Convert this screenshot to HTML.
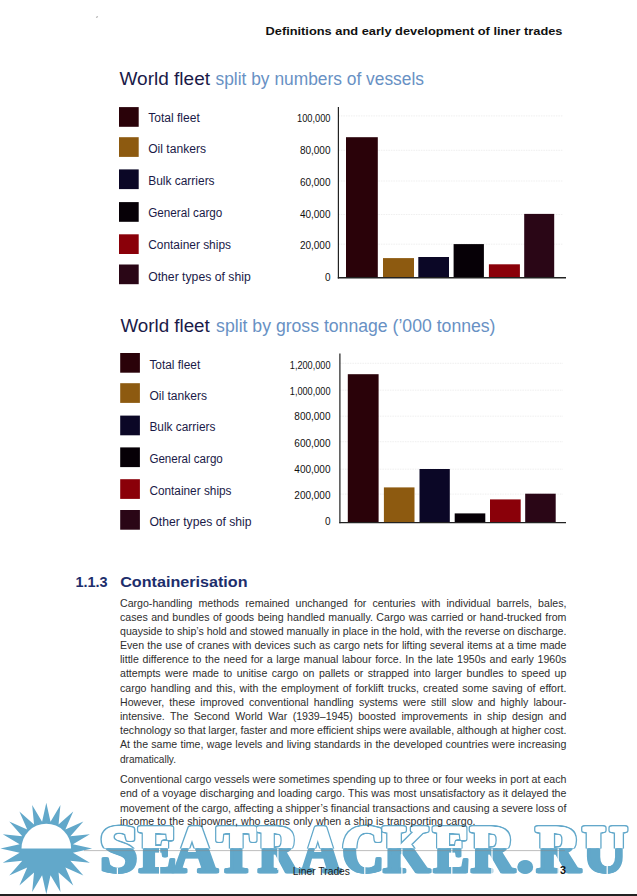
<!DOCTYPE html>
<html><head><meta charset="utf-8"><style>
html,body{margin:0;padding:0;background:#fff;overflow:hidden;}
svg{display:block;}
svg{font-family:"Liberation Sans", "DejaVu Sans", sans-serif;}
</style></head><body>
<svg width="637" height="896" viewBox="0 0 637 896">
<defs>
<clipPath id="top"><rect x="0" y="0" width="637" height="848.5"/></clipPath>
<clipPath id="bot"><rect x="0" y="848.5" width="637" height="47.5"/></clipPath>
</defs>
<rect width="637" height="896" fill="#fff"/>
<ellipse cx="97" cy="17" rx="1.3" ry="0.8" fill="#bbb" transform="rotate(-40 97 17)"/>
<polygon points="46.30,802.70 50.52,821.83 60.45,804.94 58.56,824.44 73.22,811.45 65.39,829.41 83.35,821.58 70.36,836.24 89.86,834.35 72.97,844.28 92.10,848.50 72.97,852.72 89.86,862.65 70.36,860.76 83.35,875.42 65.39,867.59 73.22,885.55 58.56,872.56 60.45,892.06 50.52,875.17 46.30,894.30 42.08,875.17 32.15,892.06 34.04,872.56 19.38,885.55 27.21,867.59 9.25,875.42 22.24,860.76 2.74,862.65 19.63,852.72 0.50,848.50 19.63,844.28 2.74,834.35 22.24,836.24 9.25,821.58 27.21,829.41 19.38,811.45 34.04,824.44 32.15,804.94 42.08,821.83" fill="#62a8ca"/>
<path d="M21.499999999999996,848.5 A24.8,24.8 0 0 1 71.1,848.5 Z" fill="#fff"/>
<g style='font-family:"Liberation Serif", "DejaVu Serif", serif;font-weight:bold;font-size:68.2442748091603px' stroke-linejoin='round'>
<g clip-path="url(#top)">
<text transform="translate(101.30,0) scale(0.9807,1)" x="-2.16" y="872.35" fill="#62a8ca" stroke="#62a8ca" stroke-width="5.5">S</text>
<text transform="translate(101.30,0) scale(0.9807,1)" x="-1.16" y="872.35" fill="#62a8ca" stroke="#62a8ca" stroke-width="5.5">S</text>
<text transform="translate(101.30,0) scale(0.9807,1)" x="-0.16" y="872.35" fill="#62a8ca" stroke="#62a8ca" stroke-width="5.5">S</text>
<text transform="translate(138.30,0) scale(0.8229,1)" x="-0.11" y="872.35" fill="#62a8ca" stroke="#62a8ca" stroke-width="5.5">E</text>
<text transform="translate(138.30,0) scale(0.8229,1)" x="0.89" y="872.35" fill="#62a8ca" stroke="#62a8ca" stroke-width="5.5">E</text>
<text transform="translate(138.30,0) scale(0.8229,1)" x="1.89" y="872.35" fill="#62a8ca" stroke="#62a8ca" stroke-width="5.5">E</text>
<text transform="translate(171.00,0) scale(0.9183,1)" x="0.57" y="872.35" fill="#62a8ca" stroke="#62a8ca" stroke-width="5.5">A</text>
<text transform="translate(171.00,0) scale(0.9183,1)" x="1.57" y="872.35" fill="#62a8ca" stroke="#62a8ca" stroke-width="5.5">A</text>
<text transform="translate(171.00,0) scale(0.9183,1)" x="2.57" y="872.35" fill="#62a8ca" stroke="#62a8ca" stroke-width="5.5">A</text>
<text transform="translate(216.50,0) scale(0.8380,1)" x="-0.11" y="872.35" fill="#62a8ca" stroke="#62a8ca" stroke-width="5.5">T</text>
<text transform="translate(216.50,0) scale(0.8380,1)" x="0.89" y="872.35" fill="#62a8ca" stroke="#62a8ca" stroke-width="5.5">T</text>
<text transform="translate(216.50,0) scale(0.8380,1)" x="1.89" y="872.35" fill="#62a8ca" stroke="#62a8ca" stroke-width="5.5">T</text>
<text transform="translate(257.00,0) scale(0.8120,1)" x="-0.11" y="872.35" fill="#62a8ca" stroke="#62a8ca" stroke-width="5.5">R</text>
<text transform="translate(257.00,0) scale(0.8120,1)" x="0.89" y="872.35" fill="#62a8ca" stroke="#62a8ca" stroke-width="5.5">R</text>
<text transform="translate(257.00,0) scale(0.8120,1)" x="1.89" y="872.35" fill="#62a8ca" stroke="#62a8ca" stroke-width="5.5">R</text>
<text transform="translate(299.00,0) scale(0.8226,1)" x="0.57" y="872.35" fill="#62a8ca" stroke="#62a8ca" stroke-width="5.5">A</text>
<text transform="translate(299.00,0) scale(0.8226,1)" x="1.57" y="872.35" fill="#62a8ca" stroke="#62a8ca" stroke-width="5.5">A</text>
<text transform="translate(299.00,0) scale(0.8226,1)" x="2.57" y="872.35" fill="#62a8ca" stroke="#62a8ca" stroke-width="5.5">A</text>
<text transform="translate(343.00,0) scale(0.8582,1)" x="-2.16" y="872.35" fill="#62a8ca" stroke="#62a8ca" stroke-width="5.5">C</text>
<text transform="translate(343.00,0) scale(0.8582,1)" x="-1.16" y="872.35" fill="#62a8ca" stroke="#62a8ca" stroke-width="5.5">C</text>
<text transform="translate(343.00,0) scale(0.8582,1)" x="-0.16" y="872.35" fill="#62a8ca" stroke="#62a8ca" stroke-width="5.5">C</text>
<text transform="translate(382.50,0) scale(0.8800,1)" x="-0.11" y="872.35" fill="#62a8ca" stroke="#62a8ca" stroke-width="5.5">K</text>
<text transform="translate(382.50,0) scale(0.8800,1)" x="0.89" y="872.35" fill="#62a8ca" stroke="#62a8ca" stroke-width="5.5">K</text>
<text transform="translate(382.50,0) scale(0.8800,1)" x="1.89" y="872.35" fill="#62a8ca" stroke="#62a8ca" stroke-width="5.5">K</text>
<text transform="translate(432.80,0) scale(0.7921,1)" x="-0.11" y="872.35" fill="#62a8ca" stroke="#62a8ca" stroke-width="5.5">E</text>
<text transform="translate(432.80,0) scale(0.7921,1)" x="0.89" y="872.35" fill="#62a8ca" stroke="#62a8ca" stroke-width="5.5">E</text>
<text transform="translate(432.80,0) scale(0.7921,1)" x="1.89" y="872.35" fill="#62a8ca" stroke="#62a8ca" stroke-width="5.5">E</text>
<text transform="translate(470.00,0) scale(0.8800,1)" x="-0.11" y="872.35" fill="#62a8ca" stroke="#62a8ca" stroke-width="5.5">R</text>
<text transform="translate(470.00,0) scale(0.8800,1)" x="0.89" y="872.35" fill="#62a8ca" stroke="#62a8ca" stroke-width="5.5">R</text>
<text transform="translate(470.00,0) scale(0.8800,1)" x="1.89" y="872.35" fill="#62a8ca" stroke="#62a8ca" stroke-width="5.5">R</text>
<text transform="translate(517.00,0) scale(1.0247,1)" x="-1.48" y="872.35" fill="#62a8ca" stroke="#62a8ca" stroke-width="5.5">.</text>
<text transform="translate(517.00,0) scale(1.0247,1)" x="-0.48" y="872.35" fill="#62a8ca" stroke="#62a8ca" stroke-width="5.5">.</text>
<text transform="translate(517.00,0) scale(1.0247,1)" x="0.52" y="872.35" fill="#62a8ca" stroke="#62a8ca" stroke-width="5.5">.</text>
<text transform="translate(535.70,0) scale(0.8895,1)" x="-0.11" y="872.35" fill="#62a8ca" stroke="#62a8ca" stroke-width="5.5">R</text>
<text transform="translate(535.70,0) scale(0.8895,1)" x="0.89" y="872.35" fill="#62a8ca" stroke="#62a8ca" stroke-width="5.5">R</text>
<text transform="translate(535.70,0) scale(0.8895,1)" x="1.89" y="872.35" fill="#62a8ca" stroke="#62a8ca" stroke-width="5.5">R</text>
<text transform="translate(582.10,0) scale(0.8899,1)" x="-0.11" y="872.35" fill="#62a8ca" stroke="#62a8ca" stroke-width="5.5">U</text>
<text transform="translate(582.10,0) scale(0.8899,1)" x="0.89" y="872.35" fill="#62a8ca" stroke="#62a8ca" stroke-width="5.5">U</text>
<text transform="translate(582.10,0) scale(0.8899,1)" x="1.89" y="872.35" fill="#62a8ca" stroke="#62a8ca" stroke-width="5.5">U</text>
<text transform="translate(101.30,0) scale(0.9807,1)" x="-2.16" y="872.35" fill="#fff" stroke="#fff" stroke-width="2.5">S</text>
<text transform="translate(101.30,0) scale(0.9807,1)" x="-1.16" y="872.35" fill="#fff" stroke="#fff" stroke-width="2.5">S</text>
<text transform="translate(101.30,0) scale(0.9807,1)" x="-0.16" y="872.35" fill="#fff" stroke="#fff" stroke-width="2.5">S</text>
<text transform="translate(138.30,0) scale(0.8229,1)" x="-0.11" y="872.35" fill="#fff" stroke="#fff" stroke-width="2.5">E</text>
<text transform="translate(138.30,0) scale(0.8229,1)" x="0.89" y="872.35" fill="#fff" stroke="#fff" stroke-width="2.5">E</text>
<text transform="translate(138.30,0) scale(0.8229,1)" x="1.89" y="872.35" fill="#fff" stroke="#fff" stroke-width="2.5">E</text>
<text transform="translate(171.00,0) scale(0.9183,1)" x="0.57" y="872.35" fill="#fff" stroke="#fff" stroke-width="2.5">A</text>
<text transform="translate(171.00,0) scale(0.9183,1)" x="1.57" y="872.35" fill="#fff" stroke="#fff" stroke-width="2.5">A</text>
<text transform="translate(171.00,0) scale(0.9183,1)" x="2.57" y="872.35" fill="#fff" stroke="#fff" stroke-width="2.5">A</text>
<text transform="translate(216.50,0) scale(0.8380,1)" x="-0.11" y="872.35" fill="#fff" stroke="#fff" stroke-width="2.5">T</text>
<text transform="translate(216.50,0) scale(0.8380,1)" x="0.89" y="872.35" fill="#fff" stroke="#fff" stroke-width="2.5">T</text>
<text transform="translate(216.50,0) scale(0.8380,1)" x="1.89" y="872.35" fill="#fff" stroke="#fff" stroke-width="2.5">T</text>
<text transform="translate(257.00,0) scale(0.8120,1)" x="-0.11" y="872.35" fill="#fff" stroke="#fff" stroke-width="2.5">R</text>
<text transform="translate(257.00,0) scale(0.8120,1)" x="0.89" y="872.35" fill="#fff" stroke="#fff" stroke-width="2.5">R</text>
<text transform="translate(257.00,0) scale(0.8120,1)" x="1.89" y="872.35" fill="#fff" stroke="#fff" stroke-width="2.5">R</text>
<text transform="translate(299.00,0) scale(0.8226,1)" x="0.57" y="872.35" fill="#fff" stroke="#fff" stroke-width="2.5">A</text>
<text transform="translate(299.00,0) scale(0.8226,1)" x="1.57" y="872.35" fill="#fff" stroke="#fff" stroke-width="2.5">A</text>
<text transform="translate(299.00,0) scale(0.8226,1)" x="2.57" y="872.35" fill="#fff" stroke="#fff" stroke-width="2.5">A</text>
<text transform="translate(343.00,0) scale(0.8582,1)" x="-2.16" y="872.35" fill="#fff" stroke="#fff" stroke-width="2.5">C</text>
<text transform="translate(343.00,0) scale(0.8582,1)" x="-1.16" y="872.35" fill="#fff" stroke="#fff" stroke-width="2.5">C</text>
<text transform="translate(343.00,0) scale(0.8582,1)" x="-0.16" y="872.35" fill="#fff" stroke="#fff" stroke-width="2.5">C</text>
<text transform="translate(382.50,0) scale(0.8800,1)" x="-0.11" y="872.35" fill="#fff" stroke="#fff" stroke-width="2.5">K</text>
<text transform="translate(382.50,0) scale(0.8800,1)" x="0.89" y="872.35" fill="#fff" stroke="#fff" stroke-width="2.5">K</text>
<text transform="translate(382.50,0) scale(0.8800,1)" x="1.89" y="872.35" fill="#fff" stroke="#fff" stroke-width="2.5">K</text>
<text transform="translate(432.80,0) scale(0.7921,1)" x="-0.11" y="872.35" fill="#fff" stroke="#fff" stroke-width="2.5">E</text>
<text transform="translate(432.80,0) scale(0.7921,1)" x="0.89" y="872.35" fill="#fff" stroke="#fff" stroke-width="2.5">E</text>
<text transform="translate(432.80,0) scale(0.7921,1)" x="1.89" y="872.35" fill="#fff" stroke="#fff" stroke-width="2.5">E</text>
<text transform="translate(470.00,0) scale(0.8800,1)" x="-0.11" y="872.35" fill="#fff" stroke="#fff" stroke-width="2.5">R</text>
<text transform="translate(470.00,0) scale(0.8800,1)" x="0.89" y="872.35" fill="#fff" stroke="#fff" stroke-width="2.5">R</text>
<text transform="translate(470.00,0) scale(0.8800,1)" x="1.89" y="872.35" fill="#fff" stroke="#fff" stroke-width="2.5">R</text>
<text transform="translate(517.00,0) scale(1.0247,1)" x="-1.48" y="872.35" fill="#fff" stroke="#fff" stroke-width="2.5">.</text>
<text transform="translate(517.00,0) scale(1.0247,1)" x="-0.48" y="872.35" fill="#fff" stroke="#fff" stroke-width="2.5">.</text>
<text transform="translate(517.00,0) scale(1.0247,1)" x="0.52" y="872.35" fill="#fff" stroke="#fff" stroke-width="2.5">.</text>
<text transform="translate(535.70,0) scale(0.8895,1)" x="-0.11" y="872.35" fill="#fff" stroke="#fff" stroke-width="2.5">R</text>
<text transform="translate(535.70,0) scale(0.8895,1)" x="0.89" y="872.35" fill="#fff" stroke="#fff" stroke-width="2.5">R</text>
<text transform="translate(535.70,0) scale(0.8895,1)" x="1.89" y="872.35" fill="#fff" stroke="#fff" stroke-width="2.5">R</text>
<text transform="translate(582.10,0) scale(0.8899,1)" x="-0.11" y="872.35" fill="#fff" stroke="#fff" stroke-width="2.5">U</text>
<text transform="translate(582.10,0) scale(0.8899,1)" x="0.89" y="872.35" fill="#fff" stroke="#fff" stroke-width="2.5">U</text>
<text transform="translate(582.10,0) scale(0.8899,1)" x="1.89" y="872.35" fill="#fff" stroke="#fff" stroke-width="2.5">U</text>
</g><g clip-path="url(#bot)">
<text transform="translate(101.30,0) scale(0.9807,1)" x="-2.16" y="872.35" fill="#62a8ca" stroke="#62a8ca" stroke-width="2.5">S</text>
<text transform="translate(101.30,0) scale(0.9807,1)" x="-1.16" y="872.35" fill="#62a8ca" stroke="#62a8ca" stroke-width="2.5">S</text>
<text transform="translate(101.30,0) scale(0.9807,1)" x="-0.16" y="872.35" fill="#62a8ca" stroke="#62a8ca" stroke-width="2.5">S</text>
<text transform="translate(138.30,0) scale(0.8229,1)" x="-0.11" y="872.35" fill="#62a8ca" stroke="#62a8ca" stroke-width="2.5">E</text>
<text transform="translate(138.30,0) scale(0.8229,1)" x="0.89" y="872.35" fill="#62a8ca" stroke="#62a8ca" stroke-width="2.5">E</text>
<text transform="translate(138.30,0) scale(0.8229,1)" x="1.89" y="872.35" fill="#62a8ca" stroke="#62a8ca" stroke-width="2.5">E</text>
<text transform="translate(171.00,0) scale(0.9183,1)" x="0.57" y="872.35" fill="#62a8ca" stroke="#62a8ca" stroke-width="2.5">A</text>
<text transform="translate(171.00,0) scale(0.9183,1)" x="1.57" y="872.35" fill="#62a8ca" stroke="#62a8ca" stroke-width="2.5">A</text>
<text transform="translate(171.00,0) scale(0.9183,1)" x="2.57" y="872.35" fill="#62a8ca" stroke="#62a8ca" stroke-width="2.5">A</text>
<text transform="translate(216.50,0) scale(0.8380,1)" x="-0.11" y="872.35" fill="#62a8ca" stroke="#62a8ca" stroke-width="2.5">T</text>
<text transform="translate(216.50,0) scale(0.8380,1)" x="0.89" y="872.35" fill="#62a8ca" stroke="#62a8ca" stroke-width="2.5">T</text>
<text transform="translate(216.50,0) scale(0.8380,1)" x="1.89" y="872.35" fill="#62a8ca" stroke="#62a8ca" stroke-width="2.5">T</text>
<text transform="translate(257.00,0) scale(0.8120,1)" x="-0.11" y="872.35" fill="#62a8ca" stroke="#62a8ca" stroke-width="2.5">R</text>
<text transform="translate(257.00,0) scale(0.8120,1)" x="0.89" y="872.35" fill="#62a8ca" stroke="#62a8ca" stroke-width="2.5">R</text>
<text transform="translate(257.00,0) scale(0.8120,1)" x="1.89" y="872.35" fill="#62a8ca" stroke="#62a8ca" stroke-width="2.5">R</text>
<text transform="translate(299.00,0) scale(0.8226,1)" x="0.57" y="872.35" fill="#62a8ca" stroke="#62a8ca" stroke-width="2.5">A</text>
<text transform="translate(299.00,0) scale(0.8226,1)" x="1.57" y="872.35" fill="#62a8ca" stroke="#62a8ca" stroke-width="2.5">A</text>
<text transform="translate(299.00,0) scale(0.8226,1)" x="2.57" y="872.35" fill="#62a8ca" stroke="#62a8ca" stroke-width="2.5">A</text>
<text transform="translate(343.00,0) scale(0.8582,1)" x="-2.16" y="872.35" fill="#62a8ca" stroke="#62a8ca" stroke-width="2.5">C</text>
<text transform="translate(343.00,0) scale(0.8582,1)" x="-1.16" y="872.35" fill="#62a8ca" stroke="#62a8ca" stroke-width="2.5">C</text>
<text transform="translate(343.00,0) scale(0.8582,1)" x="-0.16" y="872.35" fill="#62a8ca" stroke="#62a8ca" stroke-width="2.5">C</text>
<text transform="translate(382.50,0) scale(0.8800,1)" x="-0.11" y="872.35" fill="#62a8ca" stroke="#62a8ca" stroke-width="2.5">K</text>
<text transform="translate(382.50,0) scale(0.8800,1)" x="0.89" y="872.35" fill="#62a8ca" stroke="#62a8ca" stroke-width="2.5">K</text>
<text transform="translate(382.50,0) scale(0.8800,1)" x="1.89" y="872.35" fill="#62a8ca" stroke="#62a8ca" stroke-width="2.5">K</text>
<text transform="translate(432.80,0) scale(0.7921,1)" x="-0.11" y="872.35" fill="#62a8ca" stroke="#62a8ca" stroke-width="2.5">E</text>
<text transform="translate(432.80,0) scale(0.7921,1)" x="0.89" y="872.35" fill="#62a8ca" stroke="#62a8ca" stroke-width="2.5">E</text>
<text transform="translate(432.80,0) scale(0.7921,1)" x="1.89" y="872.35" fill="#62a8ca" stroke="#62a8ca" stroke-width="2.5">E</text>
<text transform="translate(470.00,0) scale(0.8800,1)" x="-0.11" y="872.35" fill="#62a8ca" stroke="#62a8ca" stroke-width="2.5">R</text>
<text transform="translate(470.00,0) scale(0.8800,1)" x="0.89" y="872.35" fill="#62a8ca" stroke="#62a8ca" stroke-width="2.5">R</text>
<text transform="translate(470.00,0) scale(0.8800,1)" x="1.89" y="872.35" fill="#62a8ca" stroke="#62a8ca" stroke-width="2.5">R</text>
<text transform="translate(517.00,0) scale(1.0247,1)" x="-1.48" y="872.35" fill="#62a8ca" stroke="#62a8ca" stroke-width="2.5">.</text>
<text transform="translate(517.00,0) scale(1.0247,1)" x="-0.48" y="872.35" fill="#62a8ca" stroke="#62a8ca" stroke-width="2.5">.</text>
<text transform="translate(517.00,0) scale(1.0247,1)" x="0.52" y="872.35" fill="#62a8ca" stroke="#62a8ca" stroke-width="2.5">.</text>
<text transform="translate(535.70,0) scale(0.8895,1)" x="-0.11" y="872.35" fill="#62a8ca" stroke="#62a8ca" stroke-width="2.5">R</text>
<text transform="translate(535.70,0) scale(0.8895,1)" x="0.89" y="872.35" fill="#62a8ca" stroke="#62a8ca" stroke-width="2.5">R</text>
<text transform="translate(535.70,0) scale(0.8895,1)" x="1.89" y="872.35" fill="#62a8ca" stroke="#62a8ca" stroke-width="2.5">R</text>
<text transform="translate(582.10,0) scale(0.8899,1)" x="-0.11" y="872.35" fill="#62a8ca" stroke="#62a8ca" stroke-width="2.5">U</text>
<text transform="translate(582.10,0) scale(0.8899,1)" x="0.89" y="872.35" fill="#62a8ca" stroke="#62a8ca" stroke-width="2.5">U</text>
<text transform="translate(582.10,0) scale(0.8899,1)" x="1.89" y="872.35" fill="#62a8ca" stroke="#62a8ca" stroke-width="2.5">U</text>
</g></g>
<rect x="116.80000000000001" y="868" width="1.2" height="7" fill="#fff"/>
<rect x="159.0" y="848.5" width="1.2" height="26.5" fill="#fff"/>
<rect x="277.29999999999995" y="848.5" width="1.2" height="21.5" fill="#fff"/>
<rect x="364.2" y="864" width="1.2" height="11" fill="#fff"/>
<rect x="401.29999999999995" y="848.5" width="1.2" height="26.5" fill="#fff"/>
<rect x="451.2" y="848.5" width="1.2" height="26.5" fill="#fff"/>
<rect x="491.4" y="848.5" width="1.2" height="26.5" fill="#fff"/>
<rect x="557.6" y="848.5" width="1.2" height="26.5" fill="#fff"/>
<rect x="606.6" y="865" width="1.2" height="10" fill="#fff"/>
<line x1="84" y1="850.6" x2="565" y2="850.6" stroke="#888" stroke-width="0.9" opacity="0.6"/>
<text x="265.5" y="35" font-size="11.5" fill="#111" font-weight="bold" textLength="297" lengthAdjust="spacingAndGlyphs">Definitions and early development of liner trades</text>
<text x="119.5" y="85" font-size="17.5" fill="#1a1a48" textLength="90.5" lengthAdjust="spacingAndGlyphs">World fleet</text>
<text x="215.5" y="85" font-size="17.5" fill="#6891c4" textLength="208.5" lengthAdjust="spacingAndGlyphs">split by numbers of vessels</text>
<text x="120.4" y="332" font-size="17.5" fill="#1a1a48" textLength="89.4" lengthAdjust="spacingAndGlyphs">World fleet</text>
<text x="216.1" y="332" font-size="17.5" fill="#6891c4" textLength="279.4" lengthAdjust="spacingAndGlyphs">split by gross tonnage (&#8217;000 tonnes)</text>
<rect x="119" y="107.1" width="19.7" height="19.7" fill="#2a0209"/>
<text x="148.2" y="122.1" font-size="12.5" fill="#1a1a48" textLength="51.6" lengthAdjust="spacingAndGlyphs">Total fleet</text>
<rect x="119" y="137.2" width="19.7" height="19.7" fill="#8d5a10"/>
<text x="148.2" y="153.4" font-size="12.5" fill="#1a1a48" textLength="57.9" lengthAdjust="spacingAndGlyphs">Oil tankers</text>
<rect x="119" y="169.4" width="19.7" height="19.7" fill="#0b0726"/>
<text x="148.2" y="185.4" font-size="12.5" fill="#1a1a48" textLength="66.4" lengthAdjust="spacingAndGlyphs">Bulk carriers</text>
<rect x="119" y="202.1" width="19.7" height="19.7" fill="#060006"/>
<text x="148.2" y="216.8" font-size="12.5" fill="#1a1a48" textLength="74.2" lengthAdjust="spacingAndGlyphs">General cargo</text>
<rect x="119" y="234.3" width="19.7" height="19.7" fill="#8a0009"/>
<text x="148.2" y="248.8" font-size="12.5" fill="#1a1a48" textLength="82.8" lengthAdjust="spacingAndGlyphs">Container ships</text>
<rect x="119" y="264.5" width="19.7" height="19.7" fill="#2a0616"/>
<text x="148.2" y="280.5" font-size="12.5" fill="#1a1a48" textLength="102.5" lengthAdjust="spacingAndGlyphs">Other types of ship</text>
<rect x="120.2" y="353" width="19.7" height="19.7" fill="#2a0209"/>
<text x="149.4" y="368.5" font-size="12.5" fill="#1a1a48" textLength="50.9" lengthAdjust="spacingAndGlyphs">Total fleet</text>
<rect x="120.2" y="383.2" width="19.7" height="19.7" fill="#8d5a10"/>
<text x="149.4" y="399.8" font-size="12.5" fill="#1a1a48" textLength="57.6" lengthAdjust="spacingAndGlyphs">Oil tankers</text>
<rect x="120.2" y="415.6" width="19.7" height="19.7" fill="#0b0726"/>
<text x="149.4" y="431.4" font-size="12.5" fill="#1a1a48" textLength="66.0" lengthAdjust="spacingAndGlyphs">Bulk carriers</text>
<rect x="120.2" y="447.4" width="19.7" height="19.7" fill="#060006"/>
<text x="149.4" y="463" font-size="12.5" fill="#1a1a48" textLength="73.4" lengthAdjust="spacingAndGlyphs">General cargo</text>
<rect x="120.2" y="479.2" width="19.7" height="19.7" fill="#8a0009"/>
<text x="149.4" y="494.7" font-size="12.5" fill="#1a1a48" textLength="82.1" lengthAdjust="spacingAndGlyphs">Container ships</text>
<rect x="120.2" y="510" width="19.7" height="19.7" fill="#2a0616"/>
<text x="149.4" y="526" font-size="12.5" fill="#1a1a48" textLength="102.2" lengthAdjust="spacingAndGlyphs">Other types of ship</text>
<line x1="338.4" y1="115.9" x2="563" y2="115.9" stroke="#ebebeb" stroke-width="0.8" stroke-dasharray="1.5 1"/>
<line x1="338.4" y1="150.3" x2="563" y2="150.3" stroke="#ebebeb" stroke-width="0.8" stroke-dasharray="1.5 1"/>
<line x1="338.4" y1="181" x2="563" y2="181" stroke="#ebebeb" stroke-width="0.8" stroke-dasharray="1.5 1"/>
<line x1="338.4" y1="214.5" x2="563" y2="214.5" stroke="#ebebeb" stroke-width="0.8" stroke-dasharray="1.5 1"/>
<line x1="338.4" y1="244.2" x2="563" y2="244.2" stroke="#ebebeb" stroke-width="0.8" stroke-dasharray="1.5 1"/>
<rect x="346" y="137.2" width="31.80000000000001" height="140.60000000000002" fill="#2a0209"/>
<rect x="383" y="258.1" width="31" height="19.69999999999999" fill="#8d5a10"/>
<rect x="418.3" y="257" width="30.69999999999999" height="20.80000000000001" fill="#0b0726"/>
<rect x="453.6" y="244.1" width="30.299999999999955" height="33.70000000000002" fill="#060006"/>
<rect x="488.9" y="264.3" width="31.0" height="13.5" fill="#8a0009"/>
<rect x="524.2" y="213.9" width="30.0" height="63.900000000000006" fill="#2a0616"/>
<line x1="338.4" y1="107" x2="338.4" y2="278.5" stroke="#222" stroke-width="1.2"/>
<line x1="337.79999999999995" y1="277.8" x2="566" y2="277.8" stroke="#222" stroke-width="1.4"/>
<text x="330.5" y="122" font-size="10" fill="#111" text-anchor="end" textLength="33.5" lengthAdjust="spacingAndGlyphs">100,000</text>
<text x="330.5" y="153.8" font-size="10" fill="#111" text-anchor="end">80,000</text>
<text x="330.5" y="185.6" font-size="10" fill="#111" text-anchor="end">60,000</text>
<text x="330.5" y="217.8" font-size="10" fill="#111" text-anchor="end">40,000</text>
<text x="330.5" y="248.9" font-size="10" fill="#111" text-anchor="end">20,000</text>
<text x="330.5" y="280.7" font-size="10" fill="#111" text-anchor="end">0</text>
<line x1="339.9" y1="363.3" x2="563" y2="363.3" stroke="#ebebeb" stroke-width="0.8" stroke-dasharray="1.5 1"/>
<line x1="339.9" y1="390.2" x2="563" y2="390.2" stroke="#ebebeb" stroke-width="0.8" stroke-dasharray="1.5 1"/>
<line x1="339.9" y1="416.2" x2="563" y2="416.2" stroke="#ebebeb" stroke-width="0.8" stroke-dasharray="1.5 1"/>
<line x1="339.9" y1="441.7" x2="563" y2="441.7" stroke="#ebebeb" stroke-width="0.8" stroke-dasharray="1.5 1"/>
<line x1="339.9" y1="469.2" x2="563" y2="469.2" stroke="#ebebeb" stroke-width="0.8" stroke-dasharray="1.5 1"/>
<line x1="339.9" y1="494.1" x2="563" y2="494.1" stroke="#ebebeb" stroke-width="0.8" stroke-dasharray="1.5 1"/>
<rect x="347.8" y="374.2" width="30.80000000000001" height="148.40000000000003" fill="#2a0209"/>
<rect x="383.9" y="487.4" width="30.600000000000023" height="35.200000000000045" fill="#8d5a10"/>
<rect x="419.5" y="469" width="30.30000000000001" height="53.60000000000002" fill="#0b0726"/>
<rect x="454.7" y="513.4" width="30.600000000000023" height="9.200000000000045" fill="#060006"/>
<rect x="490" y="499.4" width="30.700000000000045" height="23.200000000000045" fill="#8a0009"/>
<rect x="525.2" y="493.7" width="30.5" height="28.900000000000034" fill="#2a0616"/>
<line x1="339.9" y1="353.5" x2="339.9" y2="523.3000000000001" stroke="#222" stroke-width="1.2"/>
<line x1="339.29999999999995" y1="522.6" x2="566" y2="522.6" stroke="#222" stroke-width="1.4"/>
<text x="330.5" y="368.5" font-size="10" fill="#111" text-anchor="end" textLength="40.7" lengthAdjust="spacingAndGlyphs">1,200,000</text>
<text x="330.5" y="394.9" font-size="10" fill="#111" text-anchor="end" textLength="40.7" lengthAdjust="spacingAndGlyphs">1,000,000</text>
<text x="330.5" y="420.4" font-size="10" fill="#111" text-anchor="end">800,000</text>
<text x="330.5" y="447" font-size="10" fill="#111" text-anchor="end">600,000</text>
<text x="330.5" y="472.8" font-size="10" fill="#111" text-anchor="end">400,000</text>
<text x="330.5" y="498.8" font-size="10" fill="#111" text-anchor="end">200,000</text>
<text x="330.5" y="524.6" font-size="10" fill="#111" text-anchor="end">0</text>
<text x="75.4" y="586.5" font-size="14.2" fill="#1d2e6c" font-weight="bold" textLength="32.2" lengthAdjust="spacingAndGlyphs">1.1.3</text>
<text x="120.2" y="586.5" font-size="14.2" fill="#1d2e6c" font-weight="bold" textLength="127.3" lengthAdjust="spacingAndGlyphs">Containerisation</text>
<text x="120" y="607.1" font-size="10.6" fill="#2e2e2e" style="word-spacing:3.143px">Cargo-handling methods remained unchanged for centuries with individual barrels, bales,</text>
<text x="120" y="620.7" font-size="10.6" fill="#2e2e2e" style="word-spacing:0.560px">cases and bundles of goods being handled manually. Cargo was carried or hand-trucked from</text>
<text x="120" y="635" font-size="10.6" fill="#2e2e2e" style="word-spacing:-0.098px">quayside to ship&#8217;s hold and stowed manually in place in the hold, with the reverse on discharge.</text>
<text x="120" y="649" font-size="10.6" fill="#2e2e2e" style="word-spacing:0.232px">Even the use of cranes with devices such as cargo nets for lifting several items at a time made</text>
<text x="120" y="663.1" font-size="10.6" fill="#2e2e2e" style="word-spacing:0.739px">little difference to the need for a large manual labour force. In the late 1950s and early 1960s</text>
<text x="120" y="677.4" font-size="10.6" fill="#2e2e2e" style="word-spacing:1.492px">attempts were made to unitise cargo on pallets or strapped into larger bundles to speed up</text>
<text x="120" y="691.9" font-size="10.6" fill="#2e2e2e" style="word-spacing:1.027px">cargo handling and this, with the employment of forklift trucks, created some saving of effort.</text>
<text x="120" y="706.2" font-size="10.6" fill="#2e2e2e" style="word-spacing:2.200px">However, these improved conventional handling systems were still slow and highly labour-</text>
<text x="120" y="720" font-size="10.6" fill="#2e2e2e" style="word-spacing:2.536px">intensive. The Second World War (1939&#8211;1945) boosted improvements in ship design and</text>
<text x="120" y="734.3" font-size="10.6" fill="#2e2e2e" style="word-spacing:-0.196px">technology so that larger, faster and more efficient ships were available, although at higher cost.</text>
<text x="120" y="748.2" font-size="10.6" fill="#2e2e2e" style="word-spacing:0.339px">At the same time, wage levels and living standards in the developed countries were increasing</text>
<text x="120" y="762.5" font-size="10.6" fill="#2e2e2e" textLength="56" lengthAdjust="spacingAndGlyphs">dramatically.</text>
<text x="120" y="783.2" font-size="10.6" fill="#2e2e2e" style="word-spacing:0.042px">Conventional cargo vessels were sometimes spending up to three or four weeks in port at each</text>
<text x="120" y="797.3" font-size="10.6" fill="#2e2e2e" style="word-spacing:0.328px">end of a voyage discharging and loading cargo. This was most unsatisfactory as it delayed the</text>
<text x="120" y="811.6" font-size="10.6" fill="#2e2e2e" style="word-spacing:-0.083px">movement of the cargo, affecting a shipper&#8217;s financial transactions and causing a severe loss of</text>
<text x="120" y="825.4" font-size="10.6" fill="#2e2e2e" style="word-spacing:0.230px">income to the shipowner, who earns only when a ship is transporting cargo.</text>
<text x="292.8" y="875.3" font-size="11" fill="#1a1a1a" textLength="57.2" lengthAdjust="spacingAndGlyphs">Liner Trades</text>
<text x="560" y="874" font-size="11" font-weight="bold" fill="#111">3</text>
<rect x="0" y="894" width="637" height="2" fill="#222"/>
</svg>
</body></html>
